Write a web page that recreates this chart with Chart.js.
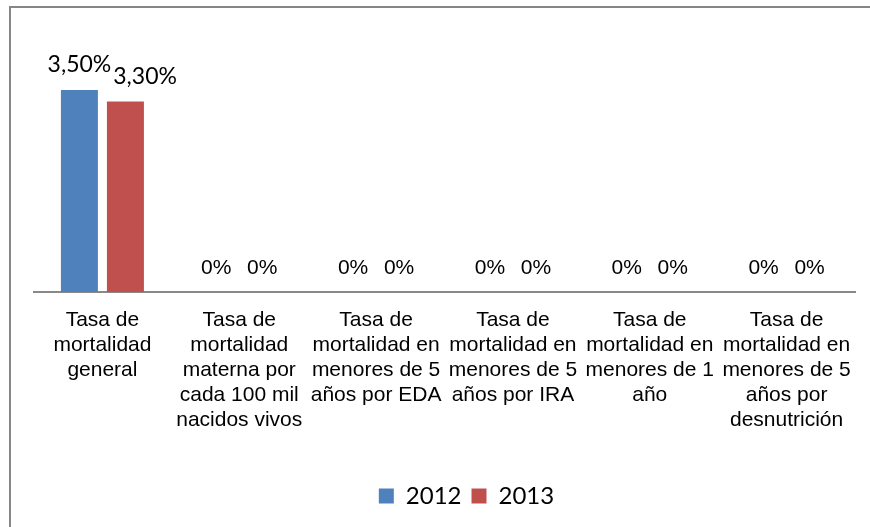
<!DOCTYPE html>
<html>
<head>
<meta charset="utf-8">
<script src="https://cdn.jsdelivr.net/npm/chart.js@4/dist/chart.umd.min.js"></script>
<style>
  html, body { margin: 0; padding: 0; background: #fff; overflow: hidden; }
  #wrap { position: relative; width: 870px; height: 527px; overflow: hidden; }
  #frame { position: absolute; left: 9px; top: 6px; width: 1200px; height: 900px; border: 2px solid #868686; box-sizing: border-box; pointer-events: none; }
  canvas { position: absolute; left: 0; top: 0; }
</style>
</head>
<body>
<div id="wrap">
  <canvas id="c" width="870" height="527"></canvas>
  <div id="frame"></div>
</div>
<script>
const categories = [
  ["Tasa de", "mortalidad", "general"],
  ["Tasa de", "mortalidad", "materna por", "cada 100 mil", "nacidos vivos"],
  ["Tasa de", "mortalidad en", "menores de 5", "años por EDA"],
  ["Tasa de", "mortalidad en", "menores de 5", "años por IRA"],
  ["Tasa de", "mortalidad en", "menores de 1", "año"],
  ["Tasa de", "mortalidad en", "menores de 5", "años por", "desnutrición"]
];
const seriesNames = ["2012", "2013"];
const values2012 = [3.5, 0, 0, 0, 0, 0];
const values2013 = [3.3, 0, 0, 0, 0, 0];

function fmt(v) {
  return v === 0 ? '0%' : v.toFixed(2).replace('.', ',') + '%';
}

const labelPlugin = {
  id: 'valueLabels',
  afterDatasetsDraw(chart) {
    const ctx = chart.ctx;
    ctx.save();
    ctx.fillStyle = '#000';
    ctx.textBaseline = 'alphabetic';
    ctx.textAlign = 'left';
    const n = chart.data.labels.length;
    for (let i = 0; i < n; i++) {
      let prevRight = -Infinity;
      chart.data.datasets.forEach((ds, di) => {
        const meta = chart.getDatasetMeta(di);
        const el = meta.data[i];
        const v = ds.data[i];
        const txt = fmt(v);
        ctx.font = v === 0 ? '21px "Liberation Sans", Arial, sans-serif' : '23px Lato, sans-serif';
        const w = ctx.measureText(txt).width;
        let left = el.x - w / 2;
        if (left < prevRight + 2) left = prevRight + 2;
        ctx.fillText(txt, left, el.y - 18);
        prevRight = left + w;
      });
    }
    ctx.restore();
  }
};

const legendShift = {
  id: 'legendShift',
  afterLayout(chart) {
    const lg = chart.legend;
    if (lg) { lg.left += 22; lg.right += 22; }
  }
};

new Chart(document.getElementById('c'), {
  type: 'bar',
  data: {
    labels: categories,
    datasets: [
      { label: seriesNames[0], data: values2012, backgroundColor: '#4F81BD', barPercentage: 0.804, categoryPercentage: 0.6725 },
      { label: seriesNames[1], data: values2013, backgroundColor: '#C0504D', barPercentage: 0.804, categoryPercentage: 0.6725 }
    ]
  },
  options: {
    responsive: false,
    animation: false,
    layout: { padding: { top: 30, left: 34, right: 15, bottom: 9 } },
    plugins: {
      legend: {
        position: 'bottom',
        labels: {
          boxWidth: 15, boxHeight: 15, padding: 10,
          color: '#000',
          font: { family: 'Lato, sans-serif', size: 24 }
        }
      },
      tooltip: { enabled: false }
    },
    scales: {
      x: {
        grid: { display: false, drawTicks: false },
        border: { display: true, color: '#898989', width: 2 },
        ticks: {
          color: '#000', autoSkip: false, maxRotation: 0, minRotation: 0, padding: 16,
          font: { family: '"Liberation Sans", Arial, sans-serif', size: 21, lineHeight: 1.19 }
        },
        afterFit(scale) { scale.height = 182; }
      },
      y: {
        display: false, min: 0, max: 4.54
      }
    }
  },
  plugins: [labelPlugin, legendShift]
});
</script>
</body>
</html>
